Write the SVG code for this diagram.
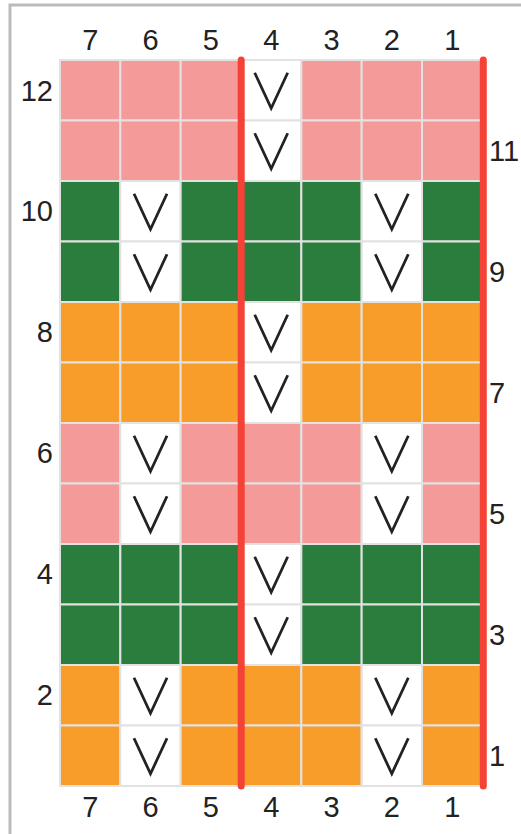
<svg xmlns="http://www.w3.org/2000/svg" width="521" height="834" viewBox="0 0 521 834">
<style>
.p{fill:#f49a99}.g{fill:#2a7d3c}.o{fill:#f99d2a}.w{fill:#ffffff}
rect.c{stroke:#e2e2e2;stroke-width:2}
.v{fill:none;stroke:#222;stroke-width:2.8;stroke-linejoin:miter}
text{font-family:"Liberation Sans",Arial,sans-serif;font-size:29px;fill:#222}
.m{text-anchor:middle}.e{text-anchor:end}
.red{stroke:#f44336;stroke-width:7;stroke-linecap:round}
</style>
<defs>
<polyline id="V" class="v" points="-16.5,-17.5 0,18 16.5,-17.5"/>
</defs>
<rect x="10" y="5" width="700" height="900" fill="#fff" stroke="#bbbbbb" stroke-width="3"/>
<g id="grid">
<g id="r12"><rect class="c p" x="60" y="60" width="60.33" height="60.5"/><rect class="c p" x="120.33" y="60" width="60.33" height="60.5"/><rect class="c p" x="180.67" y="60" width="60.33" height="60.5"/><rect class="c w" x="241" y="60" width="60.33" height="60.5"/><rect class="c p" x="301.33" y="60" width="60.33" height="60.5"/><rect class="c p" x="361.67" y="60" width="60.33" height="60.5"/><rect class="c p" x="422" y="60" width="60.33" height="60.5"/><use href="#V" x="271.2" y="90.25"/></g>
<g id="r11"><rect class="c p" x="60" y="120.5" width="60.33" height="60.5"/><rect class="c p" x="120.33" y="120.5" width="60.33" height="60.5"/><rect class="c p" x="180.67" y="120.5" width="60.33" height="60.5"/><rect class="c w" x="241" y="120.5" width="60.33" height="60.5"/><rect class="c p" x="301.33" y="120.5" width="60.33" height="60.5"/><rect class="c p" x="361.67" y="120.5" width="60.33" height="60.5"/><rect class="c p" x="422" y="120.5" width="60.33" height="60.5"/><use href="#V" x="271.2" y="150.75"/></g>
<g id="r10"><rect class="c g" x="60" y="181" width="60.33" height="60.5"/><rect class="c w" x="120.33" y="181" width="60.33" height="60.5"/><rect class="c g" x="180.67" y="181" width="60.33" height="60.5"/><rect class="c g" x="241" y="181" width="60.33" height="60.5"/><rect class="c g" x="301.33" y="181" width="60.33" height="60.5"/><rect class="c w" x="361.67" y="181" width="60.33" height="60.5"/><rect class="c g" x="422" y="181" width="60.33" height="60.5"/><use href="#V" x="150.5" y="211.25"/><use href="#V" x="391.8" y="211.25"/></g>
<g id="r9"><rect class="c g" x="60" y="241.5" width="60.33" height="60.5"/><rect class="c w" x="120.33" y="241.5" width="60.33" height="60.5"/><rect class="c g" x="180.67" y="241.5" width="60.33" height="60.5"/><rect class="c g" x="241" y="241.5" width="60.33" height="60.5"/><rect class="c g" x="301.33" y="241.5" width="60.33" height="60.5"/><rect class="c w" x="361.67" y="241.5" width="60.33" height="60.5"/><rect class="c g" x="422" y="241.5" width="60.33" height="60.5"/><use href="#V" x="150.5" y="271.75"/><use href="#V" x="391.8" y="271.75"/></g>
<g id="r8"><rect class="c o" x="60" y="302" width="60.33" height="60.5"/><rect class="c o" x="120.33" y="302" width="60.33" height="60.5"/><rect class="c o" x="180.67" y="302" width="60.33" height="60.5"/><rect class="c w" x="241" y="302" width="60.33" height="60.5"/><rect class="c o" x="301.33" y="302" width="60.33" height="60.5"/><rect class="c o" x="361.67" y="302" width="60.33" height="60.5"/><rect class="c o" x="422" y="302" width="60.33" height="60.5"/><use href="#V" x="271.2" y="332.25"/></g>
<g id="r7"><rect class="c o" x="60" y="362.5" width="60.33" height="60.5"/><rect class="c o" x="120.33" y="362.5" width="60.33" height="60.5"/><rect class="c o" x="180.67" y="362.5" width="60.33" height="60.5"/><rect class="c w" x="241" y="362.5" width="60.33" height="60.5"/><rect class="c o" x="301.33" y="362.5" width="60.33" height="60.5"/><rect class="c o" x="361.67" y="362.5" width="60.33" height="60.5"/><rect class="c o" x="422" y="362.5" width="60.33" height="60.5"/><use href="#V" x="271.2" y="392.75"/></g>
<g id="r6"><rect class="c p" x="60" y="423" width="60.33" height="60.5"/><rect class="c w" x="120.33" y="423" width="60.33" height="60.5"/><rect class="c p" x="180.67" y="423" width="60.33" height="60.5"/><rect class="c p" x="241" y="423" width="60.33" height="60.5"/><rect class="c p" x="301.33" y="423" width="60.33" height="60.5"/><rect class="c w" x="361.67" y="423" width="60.33" height="60.5"/><rect class="c p" x="422" y="423" width="60.33" height="60.5"/><use href="#V" x="150.5" y="453.25"/><use href="#V" x="391.8" y="453.25"/></g>
<g id="r5"><rect class="c p" x="60" y="483.5" width="60.33" height="60.5"/><rect class="c w" x="120.33" y="483.5" width="60.33" height="60.5"/><rect class="c p" x="180.67" y="483.5" width="60.33" height="60.5"/><rect class="c p" x="241" y="483.5" width="60.33" height="60.5"/><rect class="c p" x="301.33" y="483.5" width="60.33" height="60.5"/><rect class="c w" x="361.67" y="483.5" width="60.33" height="60.5"/><rect class="c p" x="422" y="483.5" width="60.33" height="60.5"/><use href="#V" x="150.5" y="513.75"/><use href="#V" x="391.8" y="513.75"/></g>
<g id="r4"><rect class="c g" x="60" y="544" width="60.33" height="60.5"/><rect class="c g" x="120.33" y="544" width="60.33" height="60.5"/><rect class="c g" x="180.67" y="544" width="60.33" height="60.5"/><rect class="c w" x="241" y="544" width="60.33" height="60.5"/><rect class="c g" x="301.33" y="544" width="60.33" height="60.5"/><rect class="c g" x="361.67" y="544" width="60.33" height="60.5"/><rect class="c g" x="422" y="544" width="60.33" height="60.5"/><use href="#V" x="271.2" y="574.25"/></g>
<g id="r3"><rect class="c g" x="60" y="604.5" width="60.33" height="60.5"/><rect class="c g" x="120.33" y="604.5" width="60.33" height="60.5"/><rect class="c g" x="180.67" y="604.5" width="60.33" height="60.5"/><rect class="c w" x="241" y="604.5" width="60.33" height="60.5"/><rect class="c g" x="301.33" y="604.5" width="60.33" height="60.5"/><rect class="c g" x="361.67" y="604.5" width="60.33" height="60.5"/><rect class="c g" x="422" y="604.5" width="60.33" height="60.5"/><use href="#V" x="271.2" y="634.75"/></g>
<g id="r2"><rect class="c o" x="60" y="665" width="60.33" height="60.5"/><rect class="c w" x="120.33" y="665" width="60.33" height="60.5"/><rect class="c o" x="180.67" y="665" width="60.33" height="60.5"/><rect class="c o" x="241" y="665" width="60.33" height="60.5"/><rect class="c o" x="301.33" y="665" width="60.33" height="60.5"/><rect class="c w" x="361.67" y="665" width="60.33" height="60.5"/><rect class="c o" x="422" y="665" width="60.33" height="60.5"/><use href="#V" x="150.5" y="695.25"/><use href="#V" x="391.8" y="695.25"/></g>
<g id="r1"><rect class="c o" x="60" y="725.5" width="60.33" height="60.5"/><rect class="c w" x="120.33" y="725.5" width="60.33" height="60.5"/><rect class="c o" x="180.67" y="725.5" width="60.33" height="60.5"/><rect class="c o" x="241" y="725.5" width="60.33" height="60.5"/><rect class="c o" x="301.33" y="725.5" width="60.33" height="60.5"/><rect class="c w" x="361.67" y="725.5" width="60.33" height="60.5"/><rect class="c o" x="422" y="725.5" width="60.33" height="60.5"/><use href="#V" x="150.5" y="755.75"/><use href="#V" x="391.8" y="755.75"/></g>
</g>
<g id="lines">
<line class="red" x1="241.2" y1="60" x2="241.2" y2="786"/>
<line class="red" x1="483.3" y1="60" x2="483.3" y2="786"/>
</g>
<g id="labels-top">
<text class="m" x="90.2" y="50">7</text><text class="m" x="150.5" y="50">6</text><text class="m" x="210.8" y="50">5</text><text class="m" x="271.2" y="50">4</text><text class="m" x="331.5" y="50">3</text><text class="m" x="391.8" y="50">2</text><text class="m" x="452.2" y="50">1</text>
</g>
<g id="labels-bottom">
<text class="m" x="90.2" y="817">7</text><text class="m" x="150.5" y="817">6</text><text class="m" x="210.8" y="817">5</text><text class="m" x="271.2" y="817">4</text><text class="m" x="331.5" y="817">3</text><text class="m" x="391.8" y="817">2</text><text class="m" x="452.2" y="817">1</text>
</g>
<g id="labels-left">
<text class="e" x="53" y="100.8">12</text><text class="e" x="53" y="221.3">10</text><text class="e" x="53" y="342.3">8</text><text class="e" x="53" y="463.3">6</text><text class="e" x="53" y="584.3">4</text><text class="e" x="53" y="705.3">2</text>
</g>
<g id="labels-right">
<text x="489" y="161">11</text><text x="489" y="282">9</text><text x="489" y="403">7</text><text x="489" y="524">5</text><text x="489" y="645">3</text><text x="489" y="766">1</text>
</g>
</svg>
